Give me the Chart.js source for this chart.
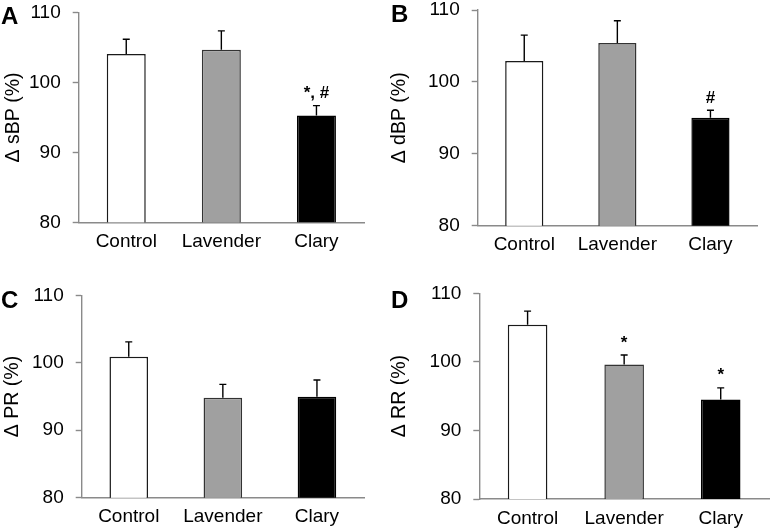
<!DOCTYPE html>
<html><head><meta charset="utf-8">
<script src="https://cdn.jsdelivr.net/npm/chart.js@4"></script>
<style>
html,body{margin:0;padding:0;background:#fff;overflow:hidden;width:771px;height:532px;position:relative;}
canvas{position:absolute;}
</style></head><body>
<canvas id="cA" width="385" height="286" style="left:0px;top:-20px"></canvas>
<canvas id="cB" width="386" height="286" style="left:385px;top:-20px"></canvas>
<canvas id="cC" width="385" height="286" style="left:0px;top:246px"></canvas>
<canvas id="cD" width="386" height="286" style="left:385px;top:246px"></canvas>
<script>
// ---- data ----
const categories = ['Control', 'Lavender', 'Clary'];
const yTicks = [80, 90, 100, 110];

const sbpMean = [104.1, 104.7, 95.3];
const sbpErr  = [2.1, 2.7, 1.4];
const sbpMarks = ['', '', '*, #'];

const dbpMean = [102.9, 105.4, 95.0];
const dbpErr  = [3.6, 3.1, 1.05];
const dbpMarks = ['', '', '#'];

const prMean = [100.9, 94.8, 94.95];
const prErr  = [2.2, 2.0, 2.5];
const prMarks = ['', '', ''];

const rrMean = [105.4, 99.6, 94.5];
const rrErr  = [2.0, 1.4, 1.7];
const rrMarks = ['', '*', '*'];

const panelLetters = ['A', 'B', 'C', 'D'];
const axisTitles = ['\u0394 sBP (%)', '\u0394 dBP (%)', '\u0394 PR (%)', '\u0394 RR (%)'];

// ---- style ----
const FONT = '"Liberation Sans", Arial, sans-serif';
Chart.defaults.font.family = FONT;
Chart.defaults.color = '#000';
const barColors = ['#ffffff', '#a0a0a0', '#000000'];
const barBorders = ['#1a1a1a', '#333333', '#000000'];
const axisGray = '#8a8a8a';

function makePanel(id, letter, title, mean, err, marks, geo) {
  const errPlugin = {
    id: 'errbars_' + id,
    afterDatasetsDraw(chart) {
      const ctx = chart.ctx;
      const ys = chart.scales.y;
      const meta = chart.getDatasetMeta(0);
      ctx.save();
      meta.data.forEach((bar, i) => {
        const x = bar.x;
        const y0 = ys.getPixelForValue(mean[i]);
        const y1 = ys.getPixelForValue(mean[i] + err[i]);
        ctx.strokeStyle = '#000';
        ctx.lineWidth = 1.4;
        ctx.beginPath();
        ctx.moveTo(x, y0); ctx.lineTo(x, y1);
        ctx.moveTo(x - 3.5, y1); ctx.lineTo(x + 3.5, y1);
        ctx.stroke();
        if (marks[i]) {
          ctx.fillStyle = '#000';
          ctx.font = 'bold 17px ' + FONT;
          ctx.textAlign = 'center';
          ctx.textBaseline = 'alphabetic';
          ctx.fillText(marks[i], x, y1 - 7.5);
        }
      });
      ctx.restore();
    },
    afterDraw(chart) {
      const ctx = chart.ctx;
      ctx.save();
      ctx.fillStyle = '#000';
      ctx.font = 'bold 24px ' + FONT;
      ctx.textAlign = 'left';
      ctx.textBaseline = 'alphabetic';
      ctx.fillText(letter, geo.lx, geo.ly);
      ctx.restore();
    }
  };
  return new Chart(document.getElementById(id), {
    type: 'bar',
    data: {
      labels: categories,
      datasets: [{
        data: mean,
        backgroundColor: barColors,
        borderColor: barBorders,
        borderWidth: 1.5,
        borderSkipped: false,
        barPercentage: 0.41,
        categoryPercentage: 1
      }]
    },
    options: {
      responsive: false,
      animation: false,
      events: [],
      layout: { padding: { left: 0, top: geo.pt, right: geo.pr, bottom: 0 } },
      plugins: { legend: { display: false }, tooltip: { enabled: false } },
      scales: {
        x: {
          offset: true,
          grid: { display: true, drawOnChartArea: false, drawTicks: false },
          border: { display: true, color: axisGray, width: 1.4 },
          ticks: { font: { size: 19 }, color: '#000', padding: 8, maxRotation: 0 },
          afterFit: s => { s.height = geo.xh; }
        },
        y: {
          min: 80, max: 110,
          grid: { display: true, drawOnChartArea: false, drawTicks: true, tickLength: 6, color: axisGray, tickWidth: 1.4 },
          border: { display: true, color: axisGray, width: 1.4 },
          ticks: { font: { size: 19 }, color: '#000', padding: 12, stepSize: 10 },
          afterBuildTicks: s => { s.ticks = yTicks.map(v => ({ value: v })); },
          title: { display: true, text: title, font: { size: 19.5 }, color: '#000', padding: { top: geo.tp, bottom: 0 } },
          afterFit: s => { s.width = geo.yw; }
        }
      }
    },
    plugins: [errPlugin]
  });
}

makePanel('cA', panelLetters[0], axisTitles[0], sbpMean, sbpErr, sbpMarks,
  { pt: 32.7, pr: 21, xh: 43.7, yw: 78.7, tp: 2, lx: 1, ly: 44 });
makePanel('cB', panelLetters[1], axisTitles[1], dbpMean, dbpErr, dbpMarks,
  { pt: 30, pr: 14, xh: 40.3, yw: 92.7, tp: 3, lx: 6, ly: 41.7 });
makePanel('cC', panelLetters[2], axisTitles[2], prMean, prErr, prMarks,
  { pt: 49.3, pr: 21, xh: 34.3, yw: 81.7, tp: 0.5, lx: 1, ly: 61.7 });
makePanel('cD', panelLetters[3], axisTitles[3], rrMean, rrErr, rrMarks,
  { pt: 47.3, pr: 2, xh: 33, yw: 94.3, tp: 3, lx: 6, ly: 61.7 });
</script>
</body></html>
